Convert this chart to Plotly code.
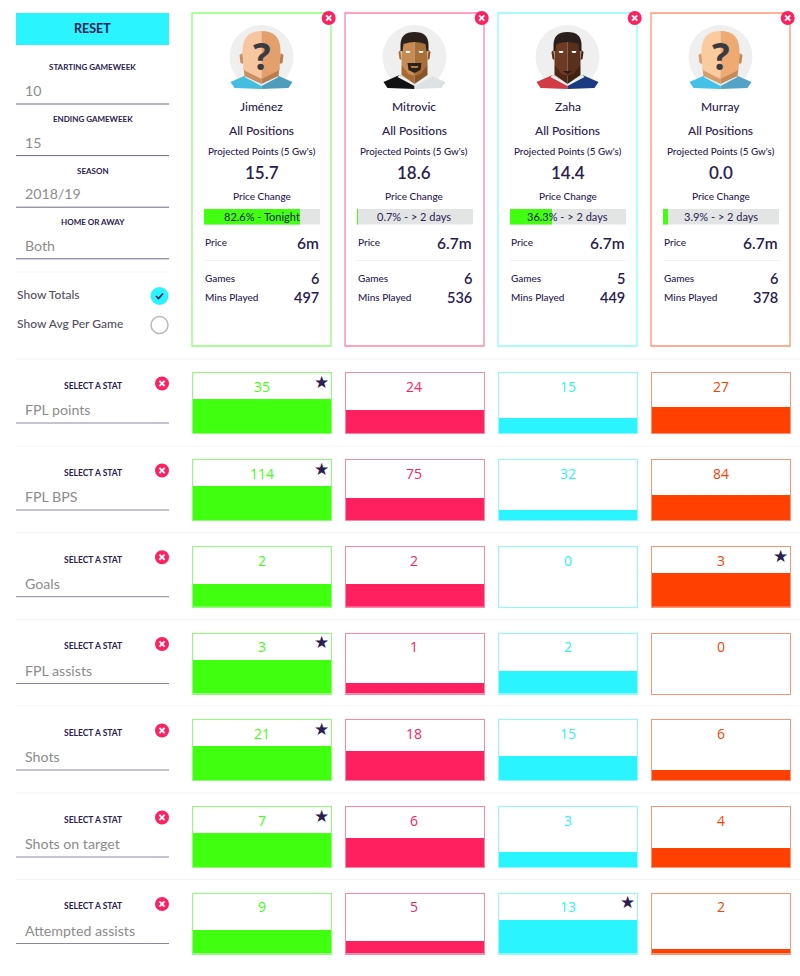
import plotly.graph_objects as go

# player cards
players = ["Jiménez", "Mitrovic", "Zaha", "Murray"]
projected = ["15.7", "18.6", "14.4", "0.0"]
price_pct = [82.6, 0.7, 36.3, 3.9]
price_when = ["Tonight", "> 2 days", "> 2 days", "> 2 days"]
prices = ["6m", "6.7m", "6.7m", "6.7m"]
games = [6, 6, 5, 6]
mins_played = [497, 536, 449, 378]

# stat rows, one value per player
stat_names = ["FPL points", "FPL BPS", "Goals", "FPL assists", "Shots", "Shots on target", "Attempted assists"]
fpl_points = [35, 24, 15, 27]
fpl_bps = [114, 75, 32, 84]
goals = [2, 2, 0, 3]
fpl_assists = [3, 1, 2, 0]
shots = [21, 18, 15, 6]
shots_on_target = [7, 6, 3, 4]
attempted_assists = [9, 5, 13, 2]
stat_values = [fpl_points, fpl_bps, goals, fpl_assists, shots, shots_on_target, attempted_assists]

filters = [("STARTING GAMEWEEK", "10"), ("ENDING GAMEWEEK", "15"), ("SEASON", "2018/19"), ("HOME OR AWAY", "Both")]

colors = ["#40ff0f", "#ff2060", "#29f4ff", "#ff4000"]
borders = ["#8cff78", "#ff85a5", "#8cfaff", "#ff9270"]
NAVY = "#2a2050"
GREY = "#8c8c8c"
FONT = "Lato"
W, H = 800, 976

card_x = [(192, 331), (345, 484), (498, 637), (651, 790)]
row_top = [373, 460, 546.7, 633.5, 720, 807, 893.5]

fig = go.Figure()
shapes = []
notes = []


def X(px):
    return px / W


def Y(py):
    return 1 - py / H


def text(x, y, s, size=11, color=NAVY, anchor="center", weight=500, font=FONT):
    # annotations sit a touch low, hence the small lift
    notes.append(dict(x=X(x), y=Y(y - 0.7), xref="paper", yref="paper", text=s, showarrow=False,
                      xanchor=anchor, yanchor="middle", borderpad=0,
                      font=dict(size=size, color=color, family=font, weight=weight)))


def rect(x0, y0, x1, y1, fill=None, line=None, lw=1, layer="below"):
    shapes.append(dict(type="rect", xref="paper", yref="paper", x0=X(x0), x1=X(x1), y0=Y(y0), y1=Y(y1),
                       fillcolor=fill or "rgba(0,0,0,0)", line=dict(color=line or "rgba(0,0,0,0)", width=lw if line else 0),
                       layer=layer))


def hline(x0, x1, y, color, lw=1):
    shapes.append(dict(type="line", xref="paper", yref="paper", x0=X(x0), x1=X(x1), y0=Y(y), y1=Y(y),
                       line=dict(color=color, width=lw), layer="below"))


def circle(cx, cy, r, fill, line=None, lw=0, layer="above"):
    shapes.append(dict(type="circle", xref="paper", yref="paper", x0=X(cx - r), x1=X(cx + r), y0=Y(cy - r), y1=Y(cy + r),
                       fillcolor=fill, line=dict(color=line or fill, width=lw), layer=layer))


def blob(cx, cy, d, fill, line=None, lw=0):
    # d is a small path written around the avatar centre, in pixels
    out = []
    is_x = True
    for tok in d.split():
        if tok.isalpha():
            out.append(tok)
            is_x = True
        elif is_x:
            out.append("%.5f" % X(cx + float(tok)))
            is_x = False
        else:
            out.append("%.5f," % Y(cy + float(tok)))
            is_x = True
    shapes.append(dict(type="path", xref="paper", yref="paper", path=" ".join(out).replace(", ", " "),
                       fillcolor=fill, line=dict(color=line or fill, width=lw), layer="above"))


def close_btn(cx, cy):
    circle(cx, cy, 7, "#ff2060")
    blob(cx, cy, "M -2.6 -2.6 L 2.6 2.6", "rgba(0,0,0,0)", "white", 2)
    blob(cx, cy, "M 2.6 -2.6 L -2.6 2.6", "rgba(0,0,0,0)", "white", 2)


def shoulders(cx, cy, left, right):
    blob(cx, cy, "M -31 25 L -15 18 L 0 27 L 0 32 L -27 31 Z", left)
    blob(cx, cy, "M 31 25 L 15 18 L 0 27 L 0 32 L 27 31 Z", right)
    blob(cx, cy, "M -15 18 L 0 26 L 0 29 L -17 20 Z", "#e8f2f5")
    blob(cx, cy, "M 15 18 L 0 26 L 0 29 L 17 20 Z", "#e8f2f5")


def unknown_head(cx, cy, light, dark, neck_l, neck_r, blue_l, blue_r):
    shoulders(cx, cy, blue_l, blue_r)
    blob(cx, cy, "M -19 -4 L -22 -2 L -21 6 L -18 7 Z", neck_l)
    blob(cx, cy, "M 19 -4 L 22 -2 L 21 6 L 18 7 Z", neck_r)
    blob(cx, cy, "M -18 11 L -17 19 L 0 27 L 0 20 Z", neck_l)
    blob(cx, cy, "M 18 11 L 17 19 L 0 27 L 0 20 Z", neck_r)
    blob(cx, cy, "M 0 -26 Q -19 -26 -19 -6 L -18 13 L 0 22 Z", light)
    blob(cx, cy, "M 0 -26 Q 19 -26 19 -6 L 18 13 L 0 22 Z", dark)
    text(cx, cy - 1, "?", size=37, color="#3a3a42", weight=700, font="Open Sans")


def face_head(cx, cy, light, dark, hair, left, right, neck_l, neck_r):
    shoulders(cx, cy, left, right)
    blob(cx, cy, "M -13 8 L -13 18 L 0 27 L 0 15 Z", neck_l)
    blob(cx, cy, "M 13 8 L 13 18 L 0 27 L 0 15 Z", neck_r)
    blob(cx, cy, "M -14 -7 L -16 -5 L -15 2 L -13 3 Z", dark)
    blob(cx, cy, "M 14 -7 L 16 -5 L 15 2 L 13 3 Z", neck_r)
    blob(cx, cy, "M 0 -22 L -13 -14 L -13 8 L -6 17 L 0 19 Z", light)
    blob(cx, cy, "M 0 -22 L 13 -14 L 13 8 L 6 17 L 0 19 Z", dark)
    blob(cx, cy, "M 0 -25 Q -14 -25 -14 -12 L -14 -6 L -12 -6 L -11 -13 Q -5 -15 0 -15 Q 5 -15 11 -13 L 12 -6 L 14 -6 L 14 -12 Q 14 -25 0 -25 Z", hair)
    blob(cx, cy, "M -9 -6 L -4 -6 L -5 -4 L -8 -4 Z", "white")
    blob(cx, cy, "M 9 -6 L 4 -6 L 5 -4 L 8 -4 Z", "white")


# left column
rect(16, 13, 169, 45, fill="#29f4ff")
text(92.5, 29, "RESET", size=12.5, weight=700)
for i, (label, value) in enumerate(filters):
    top = 68 + i * 51.6
    text(92.5, top, label, size=8, weight=700)
    text(24, top + 23.5, value, size=14.2, color=GREY, anchor="left", weight=400)
    hline(16, 169, top + 36, "#6d6785", 1)
hline(16, 169, 272, "#f4f4f4", 1)
text(15.5, 295, "Show Totals", size=12, color="#55505f", anchor="left")
text(15.5, 324, "Show Avg Per Game", size=12, color="#55505f", anchor="left")
circle(159.5, 296, 9, "#29f4ff")
blob(159.5, 296, "M -3.5 0 L -1 2.5 L 3.5 -2.5", "rgba(0,0,0,0)", NAVY, 1.6)
circle(159.5, 325, 8.5, "white", "#b8b8b8", 1.5)

# player cards
for i, name in enumerate(players):
    x0, x1 = card_x[i]
    mid = (x0 + x1) / 2
    rect(x0, 13, x1, 346, line=borders[i], lw=1.3)
    close_btn(x1 - 2.3, 18)

    circle(mid, 57, 32, "#efefef", layer="below")
    if i == 0:
        unknown_head(mid, 57, "#f5c6a0", "#e3a06c", "#c98f62", "#b97d50", "#45bde0", "#4f9dbd")
    elif i == 1:
        face_head(mid, 57, "#c78c55", "#a96f38", "#2a211d", "#121212", "#dde3e5", "#a86a32", "#8a5526")
        blob(mid, 57, "M -7 6 L 7 6 L 6 13 L 0 16 L -6 13 Z", "#2a211d")
        blob(mid, 57, "M -4 9 L 4 9 L 3 11 L -3 11 Z", "#b57a45")
    elif i == 2:
        face_head(mid, 57, "#6e3b22", "#58301b", "#2a1f1d", "#d23a46", "#1c3a80", "#4f2815", "#40200f")
        blob(mid, 57, "M -5 14 L 5 14 L 0 17 Z", "#2a1f1d")
    else:
        unknown_head(mid, 57, "#fbcba0", "#eeaa72", "#d79c6c", "#c58a5a", "#45c0e8", "#52a3c5")

    text(mid, 107, name, size=12)
    text(mid, 131, "All Positions", size=12)
    text(mid, 151.5, "Projected Points (5 Gw's)", size=9.8)
    text(mid, 173.5, projected[i], size=17, weight=600)
    text(mid, 197, "Price Change", size=10)

    # grey track behind the price change bar
    rect(x0 + 12, 209, x1 - 11, 224.5, fill="#e3e5e5")
    text(mid, 217, "%s%% - %s" % (price_pct[i], price_when[i]), size=11, weight=400)

    text(x0 + 12, 243, "Price", size=10, anchor="left")
    text(x1 - 11, 243.5, prices[i], size=15.5, anchor="right", weight=600)
    hline(x0 + 12, x1 - 11, 260.5, "#f1f1f1", 1)
    text(x0 + 12, 279, "Games", size=10, anchor="left")
    text(x1 - 11, 279, str(games[i]), size=14.5, anchor="right", weight=600)
    text(x0 + 12, 297.5, "Mins Played", size=10, anchor="left")
    text(x1 - 11, 298, str(mins_played[i]), size=14.5, anchor="right", weight=600)

# price change bars
axes = {}
n = 1
for i, pct in enumerate(price_pct):
    x0, x1 = card_x[i]
    fig.add_trace(go.Bar(y=[""], x=[pct], orientation="h", marker=dict(color=colors[0], line_width=0),
                         xaxis="x%d" % n, yaxis="y%d" % n))
    axes["xaxis%d" % n] = dict(domain=[X(x0 + 12), X(x1 - 11)], range=[0, 100], visible=False, anchor="y%d" % n, fixedrange=True)
    axes["yaxis%d" % n] = dict(domain=[Y(224.5), Y(209)], range=[-0.5, 0.5], visible=False, anchor="x%d" % n, fixedrange=True)
    n += 1

# stat rows: the tallest bar in a row fills 34 of the box's 60 px
FILL = 34 / 60
for r, name in enumerate(stat_names):
    top = row_top[r]
    vals = stat_values[r]
    rmax = max(vals)
    hline(16, W, top - 14, "#f3f3f3", 1)
    text(92.5, top + 13.5, "SELECT A STAT", size=8.5, weight=700)
    text(24, top + 37.5, name, size=14.2, color=GREY, anchor="left", weight=400)
    hline(16, 169, top + 50, "#8d88a0", 1)
    close_btn(162, top + 10.5)
    for i, v in enumerate(vals):
        x0, x1 = card_x[i]
        fig.add_trace(go.Bar(x=[""], y=[v], marker=dict(color=colors[i], line_width=0),
                             xaxis="x%d" % n, yaxis="y%d" % n))
        line = dict(showline=True, mirror=True, linecolor=borders[i], linewidth=1.2, showgrid=False, zeroline=False,
                    showticklabels=False, ticks="", fixedrange=True)
        axes["xaxis%d" % n] = dict(domain=[X(x0 + 0.5), X(x1)], range=[-0.5, 0.5], anchor="y%d" % n, **line)
        axes["yaxis%d" % n] = dict(domain=[Y(top + 60), Y(top)], range=[0, rmax / FILL], anchor="x%d" % n, **line)
        text((x0 + x1) / 2, top + 14, str(v), size=14, color=colors[i], font="Open Sans", weight=500)
        if v == rmax:
            text(x1 - 10, top + 9.5, "★", size=17, color=NAVY, font="DejaVu Sans", weight=400)
        n += 1

fig.update_layout(width=W, height=H, margin=dict(l=0, r=0, t=0, b=0), paper_bgcolor="white", plot_bgcolor="white",
                  showlegend=False, hovermode=False, bargap=0, shapes=shapes, annotations=notes, **axes)
# the page's default body margin would push the figure 8px off
fig.write_html("out.html", config={"displayModeBar": False}, post_script="document.body.style.margin='0';")
